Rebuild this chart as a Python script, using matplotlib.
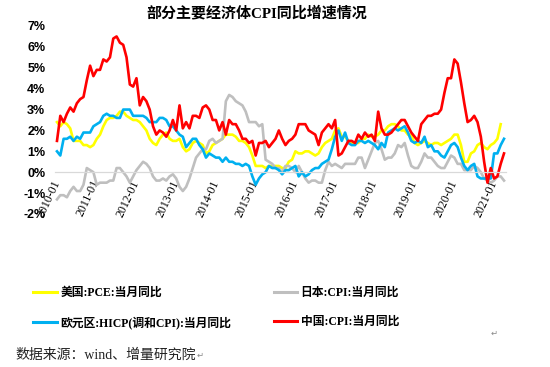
import numpy as np
import matplotlib.pyplot as plt
from matplotlib.lines import Line2D

plt.rcParams['font.family'] = ['Liberation Serif', 'Noto Sans CJK SC', 'DejaVu Sans']

# monthly YoY, %, 2010-01 .. 2021-04
us_pce = [2.4, 2.2, 2.4, 2.3, 2.1, 1.5, 1.5, 1.5, 1.3, 1.3, 1.2, 1.3,
          1.6, 1.8, 2.2, 2.5, 2.6, 2.6, 2.7, 2.9, 2.9, 2.7, 2.6, 2.5,
          2.5, 2.4, 2.2, 2.0, 1.6, 1.4, 1.3, 1.6, 1.8, 1.9, 1.6, 1.5,
          1.5, 1.6, 1.2, 1.0, 1.1, 1.4, 1.5, 1.4, 1.3, 0.9, 1.0, 1.3,
          1.4, 1.5, 1.6, 1.8, 1.8, 1.8, 1.7, 1.5, 1.5, 1.4, 1.2, 0.8,
          0.3, 0.3, 0.3, 0.2, 0.3, 0.3, 0.3, 0.3, 0.2, 0.2, 0.5, 0.6,
          1.0, 0.9, 0.9, 1.0, 1.0, 0.9, 0.8, 0.9, 1.2, 1.4, 1.5, 1.6,
          2.0, 2.1, 1.7, 1.7, 1.5, 1.4, 1.4, 1.4, 1.6, 1.6, 1.8, 1.7,
          1.7, 1.8, 2.0, 2.0, 2.2, 2.3, 2.3, 2.2, 2.0, 2.0, 1.8, 1.8,
          1.4, 1.3, 1.4, 1.5, 1.4, 1.3, 1.4, 1.4, 1.3, 1.4, 1.5, 1.6,
          1.8, 1.8, 1.3, 0.5, 0.5, 0.9, 1.0, 1.3, 1.4, 1.2, 1.1, 1.3,
          1.4, 1.6, 2.3]

japan_cpi = [-1.3, -1.1, -1.1, -1.2, -0.9, -0.7, -0.9, -0.9, -0.6, 0.2, 0.1, 0.0,
             -0.6, -0.5, -0.5, -0.5, -0.4, -0.4, 0.2, 0.2, 0.0, -0.2, -0.5, -0.2,
             0.1, 0.3, 0.5, 0.4, 0.2, -0.2, -0.4, -0.4, -0.3, -0.4, -0.2, -0.1,
             -0.3, -0.7, -0.9, -0.7, -0.3, 0.2, 0.7, 0.9, 1.1, 1.1, 1.5, 1.6,
             1.4, 1.5, 1.6, 3.4, 3.7, 3.6, 3.4, 3.3, 3.2, 2.9, 2.4, 2.4,
             2.4, 2.2, 2.3, 0.6, 0.5, 0.4, 0.2, 0.2, 0.0, 0.3, 0.3, 0.2,
             0.0, 0.3, 0.0, -0.3, -0.5, -0.4, -0.4, -0.5, -0.5, 0.1, 0.5, 0.3,
             0.4, 0.3, 0.2, 0.4, 0.4, 0.4, 0.4, 0.7, 0.7, 0.2, 0.6, 1.0,
             1.4, 1.5, 1.1, 0.6, 0.7, 0.7, 0.9, 1.3, 1.2, 1.4, 0.8, 0.3,
             0.2, 0.2, 0.5, 0.9, 0.7, 0.7, 0.5, 0.3, 0.2, 0.2, 0.5, 0.8,
             0.7, 0.4, 0.4, 0.1, 0.1, 0.1, 0.3, 0.2, 0.0, -0.3, -0.4, -0.5,
             -0.4, -0.2, -0.2, -0.4]

euro_hicp = [1.0, 0.8, 1.6, 1.6, 1.7, 1.5, 1.7, 1.6, 1.9, 1.9, 1.9, 2.2,
             2.3, 2.4, 2.7, 2.8, 2.7, 2.7, 2.6, 2.6, 3.0, 3.0, 3.0, 2.7,
             2.7, 2.7, 2.7, 2.6, 2.4, 2.4, 2.4, 2.6, 2.6, 2.5, 2.2, 2.2,
             2.0, 1.8, 1.7, 1.2, 1.4, 1.6, 1.6, 1.3, 1.1, 0.7, 0.9, 0.8,
             0.7, 0.7, 0.5, 0.7, 0.5, 0.5, 0.4, 0.4, 0.3, 0.4, 0.3, -0.2,
             -0.6, -0.3, -0.1, 0.0, 0.3, 0.2, 0.2, 0.1, -0.1, 0.1, 0.1, 0.2,
             0.3, -0.2, 0.0, -0.2, -0.1, 0.1, 0.2, 0.2, 0.4, 0.5, 0.6, 1.1,
             1.7, 2.0, 1.5, 1.9, 1.4, 1.3, 1.3, 1.5, 1.5, 1.4, 1.5, 1.4,
             1.3, 1.1, 1.4, 1.2, 1.9, 2.0, 2.1, 2.0, 2.1, 2.2, 1.9, 1.5,
             1.4, 1.5, 1.4, 1.7, 1.2, 1.3, 1.0, 1.0, 0.8, 0.7, 1.0, 1.3,
             1.4, 1.2, 0.7, 0.3, 0.1, 0.3, 0.4, -0.2, -0.3, -0.3, -0.3, -0.3,
             0.9, 0.9, 1.3, 1.6]

china_cpi = [1.5, 2.7, 2.4, 2.8, 3.1, 2.9, 3.3, 3.5, 3.6, 4.4, 5.1, 4.6,
             4.9, 4.9, 5.4, 5.3, 5.5, 6.4, 6.5, 6.2, 6.1, 5.5, 4.2, 4.1,
             4.5, 3.2, 3.6, 3.4, 3.0, 2.2, 1.8, 2.0, 1.9, 1.7, 2.0, 2.5,
             2.0, 3.2, 2.1, 2.4, 2.1, 2.7, 2.7, 2.6, 3.1, 3.2, 3.0, 2.5,
             2.5, 2.0, 2.4, 1.8, 2.5, 2.3, 2.3, 2.0, 1.6, 1.6, 1.4, 1.5,
             0.8, 1.4, 1.4, 1.5, 1.2, 1.4, 1.6, 2.0, 1.6, 1.3, 1.5, 1.6,
             1.8, 2.3, 2.3, 2.3, 2.0, 1.9, 1.8, 1.3, 1.9, 2.1, 2.3, 2.1,
             2.5, 0.8, 0.9, 1.2, 1.5, 1.5, 1.4, 1.8, 1.6, 1.9, 1.7, 1.8,
             1.5, 2.9, 2.1, 1.8, 1.8, 1.9, 2.1, 2.3, 2.5, 2.5, 2.2, 1.9,
             1.7, 1.5, 2.3, 2.5, 2.7, 2.7, 2.8, 2.8, 3.0, 3.8, 4.5, 4.5,
             5.4, 5.2, 4.3, 3.3, 2.4, 2.5, 2.7, 2.4, 1.7, 0.5, -0.5, 0.2,
             -0.3, -0.2, 0.4, 0.9]

tick_labels = [f'{y}-01' for y in range(2010, 2022)]
y_ticks = list(range(-2, 8))

series = [
    ('美国:PCE:当月同比', us_pce, '#FFFF00'),
    ('日本:CPI:当月同比', japan_cpi, '#BFBFBF'),
    ('欧元区:HICP(调和CPI):当月同比', euro_hicp, '#00B0F0'),
    ('中国:CPI:当月同比', china_cpi, '#FF0000'),
]

fig = plt.figure(figsize=(5.5, 3.67), dpi=100)
ax = fig.add_axes([55 / 550, 1 - 214 / 367, 451 / 550, 188 / 367])

# category axis crosses at 0 (set before the ticks, it resets them)
for s in ['top', 'right', 'left']:
    ax.spines[s].set_visible(False)
ax.spines['bottom'].set_position(('data', 0))
ax.spines['bottom'].set_color('#d9d9d9')
ax.spines['bottom'].set_linewidth(0.9)

handles = {}
for name, vals, color in series:
    x = np.arange(len(vals))
    ax.plot(x, vals, color=color, lw=1.9, solid_joinstyle='round')
    handles[name] = Line2D([], [], color=color, lw=2.2)

ax.set_xlim(-0.6, 135.6)
ax.set_ylim(-2, 7)

ax.set_yticks(y_ticks)
ax.set_yticklabels([f'{v}%' for v in y_ticks], family='Liberation Sans',
                   fontweight='bold', fontsize=9)
ax.set_xticks(np.arange(0, 12 * len(tick_labels), 12))
ax.set_xticklabels(tick_labels, rotation=65, ha='right', va='center',
                   rotation_mode='anchor', fontsize=8.5)
ax.tick_params(axis='y', length=0, pad=7)
ax.tick_params(axis='x', length=0, pad=6)

fig.text(257 / 550, 1 - 13 / 367, '部分主要经济体CPI同比增速情况',
         ha='center', va='center', fontsize=10.8, fontweight='bold')

order = [series[0][0], series[2][0], series[1][0], series[3][0]]
fig.legend([handles[n] for n in order], order, ncol=2, frameon=False,
           loc='upper left', bbox_to_anchor=(33 / 550, 1 - 287 / 367),
           borderpad=0, borderaxespad=0, handlelength=2.0, handletextpad=0.3,
           columnspacing=3.6, labelspacing=1.45,
           prop={'size': 8.5, 'weight': 'bold'})

fig.text(15 / 550, 1 - 355 / 367, '数据来源：wind、增量研究院',
         ha='left', va='center', fontsize=10, color='#222222')
fig.text(197 / 550, 1 - 355 / 367, '↵', ha='left', va='center',
         fontsize=6, color='#888888', family=['DejaVu Sans'])
fig.text(494 / 550, 1 - 333 / 367, '↵', ha='center', va='center',
         fontsize=6, color='#888888', family=['DejaVu Sans'])

fig.savefig('out.png', dpi=100)
